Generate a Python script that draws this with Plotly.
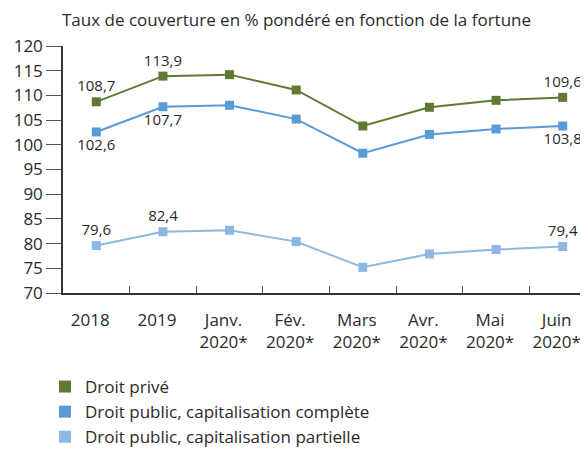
import plotly.graph_objects as go

categories = ["2018", "2019", "Janv.<br>2020*", "Fév.<br>2020*", "Mars<br>2020*",
              "Avr.<br>2020*", "Mai<br>2020*", "Juin<br>2020*"]
droit_prive = [108.7, 113.9, 114.2, 111.1, 103.8, 107.6, 109.0, 109.6]
public_complete = [102.6, 107.7, 108.0, 105.2, 98.3, 102.1, 103.2, 103.8]
public_partielle = [79.6, 82.4, 82.7, 80.4, 75.2, 77.9, 78.8, 79.4]
labelled_idx = [0, 1, 7]
y_ticks = [70, 75, 80, 85, 90, 95, 100, 105, 110, 115, 120]

names = ["Droit privé", "Droit public, capitalisation complète", "Droit public, capitalisation partielle"]
colors = ["#607a33", "#5b9bd5", "#8db8e2"]
positions = ["top center", "bottom center", "top center"]
series = [droit_prive, public_complete, public_partielle]

# page body has an 8px margin; figure is sized to fill the rest of the window
W, H, OFF = 580, 442, 8
FONT = "Open Sans"
TXT = "#2a2a2a"
fig = go.Figure()
for vals, name, col, pos in zip(series, names, colors, positions):
    txt = [f"{v:.1f}".replace(".", ",") if i in labelled_idx else "" for i, v in enumerate(vals)]
    fig.add_trace(go.Scatter(
        x=categories, y=vals, mode="lines+markers+text", name=name,
        line=dict(color=col, width=2), marker=dict(symbol="square", size=9, color=col),
        text=txt, textposition=pos, textfont=dict(size=15, color=TXT, family=FONT),
        showlegend=False, cliponaxis=False))
for name, col in zip(names, colors):
    fig.add_trace(go.Scatter(x=[None], y=[None], mode="markers", name=name,
                             marker=dict(symbol="square", size=12, color=col)))

fig.update_layout(
    width=W, height=H,
    margin=dict(l=63 - OFF, r=0, t=46 - OFF, b=157, autoexpand=False),
    plot_bgcolor="white", paper_bgcolor="white",
    font=dict(family=FONT, color=TXT, size=17),
    title=dict(text="Taux de couverture en % pondéré en fonction de la fortune",
               x=(62 - OFF) / W, xanchor="left", y=1 - (20 - OFF) / H, yanchor="middle",
               font=dict(size=17, color=TXT, family=FONT)),
    showlegend=True,
    legend=dict(xref="container", yref="container", x=(45 - OFF) / W, xanchor="left",
                y=1 - (369 - OFF) / H, yanchor="top",
                font=dict(size=17, color=TXT, family=FONT),
                tracegroupgap=0, bgcolor="rgba(0,0,0,0)"),
)
fig.update_xaxes(type="category", range=[-0.5, 7.38], showgrid=False,
                 showline=True, linecolor="#333333", linewidth=1.5,
                 ticks="inside", tickson="boundaries", ticklen=7, tickcolor="#555555",
                 ticklabelstandoff=11, ticklabelshift=-6,
                 tickfont=dict(size=17, color=TXT))
fig.update_yaxes(range=[70, 120], tickvals=y_ticks, showgrid=False, zeroline=False,
                 showline=True, linecolor="#333333", linewidth=1.5,
                 ticks="outside", ticklen=15, tickcolor="#555555",
                 tickfont=dict(size=17, color=TXT))
fig.write_html("out.html")
